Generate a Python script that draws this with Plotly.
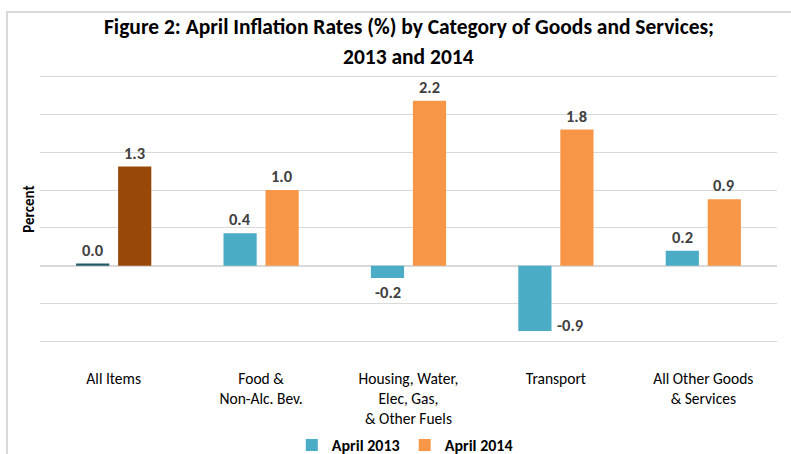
import plotly.graph_objects as go

categories = ["All Items", "Food &<br>Non-Alc. Bev.", "Housing, Water,<br>Elec, Gas,<br>& Other Fuels",
              "Transport", "All Other Goods<br>& Services"]
series_names = ["April 2013", "April 2014"]
apr2013 = [0.03, 0.43, -0.16, -0.86, 0.20]
apr2014 = [1.31, 1.00, 2.18, 1.80, 0.88]
base_colors = ["#4BACC6", "#F79646"]
highlight_colors = ["#215968", "#984807"]

FONT = "Carlito, 'Liberation Sans Narrow', 'Arial Narrow', 'Liberation Sans', sans-serif"

fig = go.Figure()
all_vals = [apr2013, apr2014]
for i, (name, vals) in enumerate(zip(series_names, all_vals)):
    colors = [highlight_colors[i] if j == 0 else base_colors[i] for j in range(len(categories))]
    fig.add_trace(go.Bar(x=categories, y=vals, name=name, marker=dict(color=colors, line=dict(width=0)),
                         offsetgroup=str(i), showlegend=False, hoverinfo="x+y"))
    # legend-only entry with the series' base colour
    fig.add_trace(go.Bar(x=[categories[0]], y=[0], name=f"<b>{name}</b>",
                         marker=dict(color=base_colors[i], line=dict(width=0)),
                         offsetgroup=str(i), showlegend=True, hoverinfo="skip"))

annotations = []
for i, vals in enumerate(all_vals):
    sign = -1 if i == 0 else 1
    for cat, v in zip(categories, vals):
        a = dict(x=cat, y=v, text=f"<b>{v:.1f}</b>", showarrow=False, xref="x", yref="y",
                 font=dict(family=FONT, size=16.5, color="#404040"))
        if v < -0.5:
            a.update(xshift=sign * 21 + 20, xanchor="left", yanchor="bottom", yshift=-6)
        elif v >= 0:
            a.update(xshift=sign * 21, yanchor="bottom", yshift=2)
        else:
            a.update(xshift=sign * 21, yanchor="top", yshift=-2)
        annotations.append(a)

annotations.append(dict(text="<b>Figure 2: April Inflation Rates (%) by Category of Goods and Services;</b>",
                        x=0.5, y=1.179, xref="paper", yref="paper", showarrow=False, yanchor="middle",
                        font=dict(family=FONT, size=21.5, color="#000000")))
annotations.append(dict(text="<b>2013 and 2014</b>",
                        x=0.5, y=1.067, xref="paper", yref="paper", showarrow=False, yanchor="middle",
                        font=dict(family=FONT, size=21.5, color="#000000")))

fig.update_layout(
    width=791, height=454,
    margin=dict(l=40, r=14, t=75, b=111, autoexpand=False),
    paper_bgcolor="white", plot_bgcolor="white",
    barmode="group", bargap=0.43, bargroupgap=0.21,
    font=dict(family=FONT, size=15.5, color="#000000"),
    annotations=annotations,
    legend=dict(orientation="h", x=0.495, xanchor="center", y=-0.381, yanchor="middle",
                font=dict(family=FONT, size=16, color="#000000"), itemwidth=30,
                traceorder="normal"),
    shapes=[dict(type="rect", xref="paper", yref="paper", x0=-0.0448, x1=1.05, y0=-0.5, y1=1.235,
                 line=dict(color="#D9D9D9", width=2), layer="below")],
    xaxis=dict(showgrid=False, showline=False, ticks="outside", ticklen=21, tickcolor="rgba(0,0,0,0)",
               tickfont=dict(family=FONT, size=15.5, color="#000000"), automargin=False),
    yaxis=dict(range=[-1.02, 2.52], dtick=0.5, tick0=0, showgrid=True, gridcolor="#D9D9D9", gridwidth=1,
               zeroline=True, zerolinecolor="#D9D9D9", zerolinewidth=1.5,
               showticklabels=False, ticks="", showline=False, automargin=False,
               title=dict(text="<b>Percent</b>", standoff=0, font=dict(family=FONT, size=15, color="#000000"))),
)

fig.write_html("out.html", config={"displayModeBar": False},
               post_script="document.body.style.margin='0';document.body.style.padding='0';")
